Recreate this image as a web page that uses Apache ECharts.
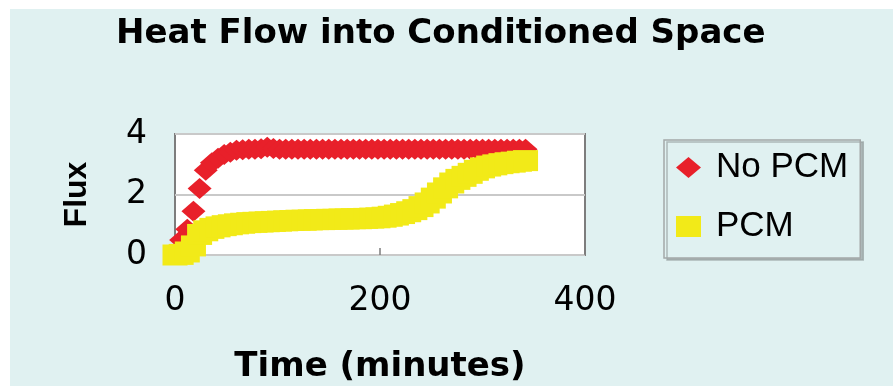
<!DOCTYPE html>
<html>
<head>
<meta charset="utf-8">
<script src="https://cdn.jsdelivr.net/npm/echarts@6/dist/echarts.min.js"></script>
<style>
  html, body { margin: 0; padding: 0; background: #ffffff; }
  #frame { position: absolute; left: 10px; top: 9px; right: 1px; bottom: 0; background: #e0f1f1; }
  #chart { position: absolute; left: 0; top: 0; width: 894px; height: 386px; }
</style>
</head>
<body>
<div id="frame"></div>
<div id="chart"></div>
<script>
// Sample times (minutes)
const times = [0, 6, 12, 18, 24, 30, 36, 42, 48, 54, 60, 66, 72, 78, 84, 90, 96, 102, 108, 114,
  120, 126, 132, 138, 144, 150, 156, 162, 168, 174, 180, 186, 192, 198, 204, 210, 216, 222, 228, 234,
  240, 246, 252, 258, 264, 270, 276, 282, 288, 294, 300, 306, 312, 318, 324, 330, 336, 342];

// Heat flux without phase-change material
const noPcm = [0.05, 0.5, 0.85, 1.45, 2.2, 2.8, 3.05, 3.2, 3.32, 3.4, 3.46, 3.48, 3.5, 3.5, 3.51, 3.56, 3.52, 3.5, 3.5, 3.5,
  3.5, 3.5, 3.5, 3.5, 3.5, 3.5, 3.5, 3.5, 3.5, 3.5, 3.5, 3.5, 3.5, 3.5, 3.5, 3.5, 3.5, 3.5, 3.5, 3.5,
  3.5, 3.5, 3.5, 3.5, 3.5, 3.5, 3.5, 3.5, 3.5, 3.5, 3.5, 3.5, 3.5, 3.5, 3.5, 3.5, 3.5, 3.5];

// Heat flux with phase-change material
const pcm = [0, 0.02, 0.1, 0.3, 0.68, 0.8, 0.88, 0.93, 0.97, 1.0, 1.03, 1.05, 1.07, 1.08, 1.09, 1.1, 1.11, 1.12, 1.13, 1.14,
  1.15, 1.15, 1.16, 1.17, 1.17, 1.18, 1.18, 1.19, 1.19, 1.2, 1.2, 1.21, 1.22, 1.23, 1.25, 1.28, 1.32, 1.37, 1.43, 1.5,
  1.6, 1.72, 1.88, 2.05, 2.22, 2.38, 2.5, 2.6, 2.7, 2.8, 2.88, 2.94, 2.98, 3.02, 3.05, 3.07, 3.1, 3.12];

const xTicks = [0, 200, 400];
const yTicks = [0, 2, 4];

const pair = (xs, ys) => xs.map((x, i) => [x, ys[i]]);

const chart = echarts.init(document.getElementById('chart'), null, { renderer: 'canvas' });
chart.setOption({
  backgroundColor: 'transparent',
  animation: false,
  title: {
    text: 'Heat Flow into Conditioned Space',
    left: 116,
    top: 17,
    padding: 0,
    textStyle: { fontFamily: 'DejaVu Sans', fontWeight: 'bold', fontSize: 34, color: '#000' }
  },
  legend: {
    orient: 'vertical',
    left: 664,
    top: 140,
    padding: [10, 12, 14, 12],
    itemGap: 24,
    itemWidth: 25,
    itemHeight: 21,
    backgroundColor: '#e0f1f1',
    borderColor: '#a3a8a8',
    borderWidth: 1.5,
    shadowColor: 'rgba(150,160,160,0.7)',
    shadowBlur: 0,
    shadowOffsetX: 3,
    shadowOffsetY: 2,
    textStyle: { fontFamily: 'Liberation Sans', fontSize: 35, color: '#000', padding: [0, 0, 0, 10] },
    data: [
      { name: 'No PCM', icon: 'diamond' },
      { name: 'PCM', icon: 'rect' }
    ]
  },
  grid: {
    show: true,
    left: 175,
    top: 134,
    right: 309,
    bottom: 131,
    backgroundColor: '#ffffff',
    borderColor: '#7d7d7d',
    borderWidth: 2
  },
  xAxis: {
    type: 'value',
    min: xTicks[0],
    max: xTicks[xTicks.length - 1],
    interval: 200,
    name: 'Time (minutes)',
    nameLocation: 'middle',
    nameGap: 95,
    nameTextStyle: { fontFamily: 'DejaVu Sans', fontWeight: 'bold', fontSize: 34, color: '#000' },
    axisLine: { show: false },
    axisTick: { show: true, inside: true, length: 7, lineStyle: { color: '#7d7d7d', width: 1.5 } },
    splitLine: { show: false },
    axisLabel: { margin: 30, fontFamily: 'DejaVu Sans', fontSize: 33, color: '#000' }
  },
  yAxis: {
    type: 'value',
    min: yTicks[0],
    max: yTicks[yTicks.length - 1],
    interval: 2,
    name: 'Flux',
    nameLocation: 'middle',
    nameGap: 82,
    nameRotate: 90,
    nameTextStyle: { fontFamily: 'Liberation Sans', fontWeight: 'bold', fontSize: 32, color: '#000' },
    axisLine: { show: false },
    axisTick: { show: false },
    splitLine: { show: true, lineStyle: { color: '#c9c9c9', width: 2 } },
    axisLabel: { margin: 28, fontFamily: 'DejaVu Sans', fontSize: 33, color: '#000' }
  },
  series: [
    {
      name: 'No PCM',
      type: 'scatter',
      symbol: 'diamond',
      symbolSize: [24, 21],
      itemStyle: { color: '#e8202a', opacity: 1 },
      data: pair(times, noPcm),
      clip: false
    },
    {
      name: 'PCM',
      type: 'scatter',
      symbol: 'rect',
      symbolSize: [25, 21],
      itemStyle: { color: '#f2ea18', opacity: 1 },
      data: pair(times, pcm),
      clip: false
    }
  ]
});
</script>
</body>
</html>
